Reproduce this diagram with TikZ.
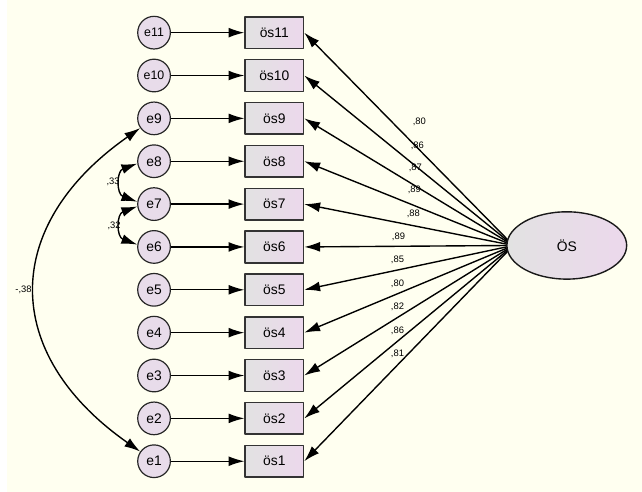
\documentclass[tikz,border=0pt]{standalone}
\usepackage{fontspec}
\setmainfont{Liberation Sans}
\usetikzlibrary{arrows.meta,shapes.geometric}
\definecolor{bg}{HTML}{FFFFF0}
\definecolor{grau}{HTML}{E2E2E2}
\definecolor{lila}{HTML}{ECD8EC}
\definecolor{kreis}{HTML}{E8DCEA}
\tikzset{
  fehler/.style={circle,draw=black!85,line width=1.2pt,fill=kreis,minimum size=33pt,inner sep=0pt,font=\fontsize{14}{16}\selectfont},
  item/.style={rectangle,draw=black!80,line width=1.5pt,left color=grau,right color=lila,minimum width=59pt,minimum height=32pt,inner sep=0pt,font=\fontsize{14}{16}\selectfont},
  faktor/.style={ellipse,draw=black!90,line width=1.4pt,left color=grau,right color=lila,minimum width=121pt,minimum height=68pt,inner sep=0pt,font=\fontsize{14}{16}\selectfont},
  wert/.style={inner sep=0pt,font=\fontsize{9.5}{11}\selectfont}
}
\begin{document}
\begin{tikzpicture}[x=1pt,y=-1pt,>={Latex[length=16pt,width=10pt]},line join=round,line width=1.4pt]
\fill[bg] (0,0) rectangle (642,497);
\coordinate (fan) at (512,248);
% error terms and items
\foreach \i in {1,...,11}{
  \pgfmathsetmacro\y{466-(\i-1)*43.3}
  \node[fehler] (e\i) at (149,\y) {\ifnum\i>9\fontsize{12.5}{14}\selectfont\fi e\i};
  \node[item] (s\i) at (270.5,\y) {ös\i};
  \draw[->] (e\i) -- (s\i);
  \draw[->] (fan) -- (s\i.east);
}
\node[faktor] (OS) at (566,248) {ÖS};
% loadings
\foreach \i/\w/\lx/\ly in {11/80/417/123,10/86/415/147,9/87/413/170,8/89/412/192,7/88/411/216,
  6/89/396/239,5/85/395/263,4/80/395/287,3/82/395/310,2/86/395/334,1/81/395/357}
  \node[wert] (w\i) at (\lx,\ly) {,\w};
% covariances
\draw[<->] (e9.215) to[out=215,in=145,looseness=1.35] (e1.145);
\draw[<->] (e8.188) to[out=200,in=160,looseness=1.5] (e7.172);
\draw[<->] (e7.188) to[out=200,in=160,looseness=1.5] (e6.172);
\node[wert,anchor=east] (c91) at (26,293) {-,38};
\node[wert,anchor=east] (c87) at (115,184) {,33};
\node[wert,anchor=east] (c76) at (116,228) {,32};
\end{tikzpicture}
\end{document}
